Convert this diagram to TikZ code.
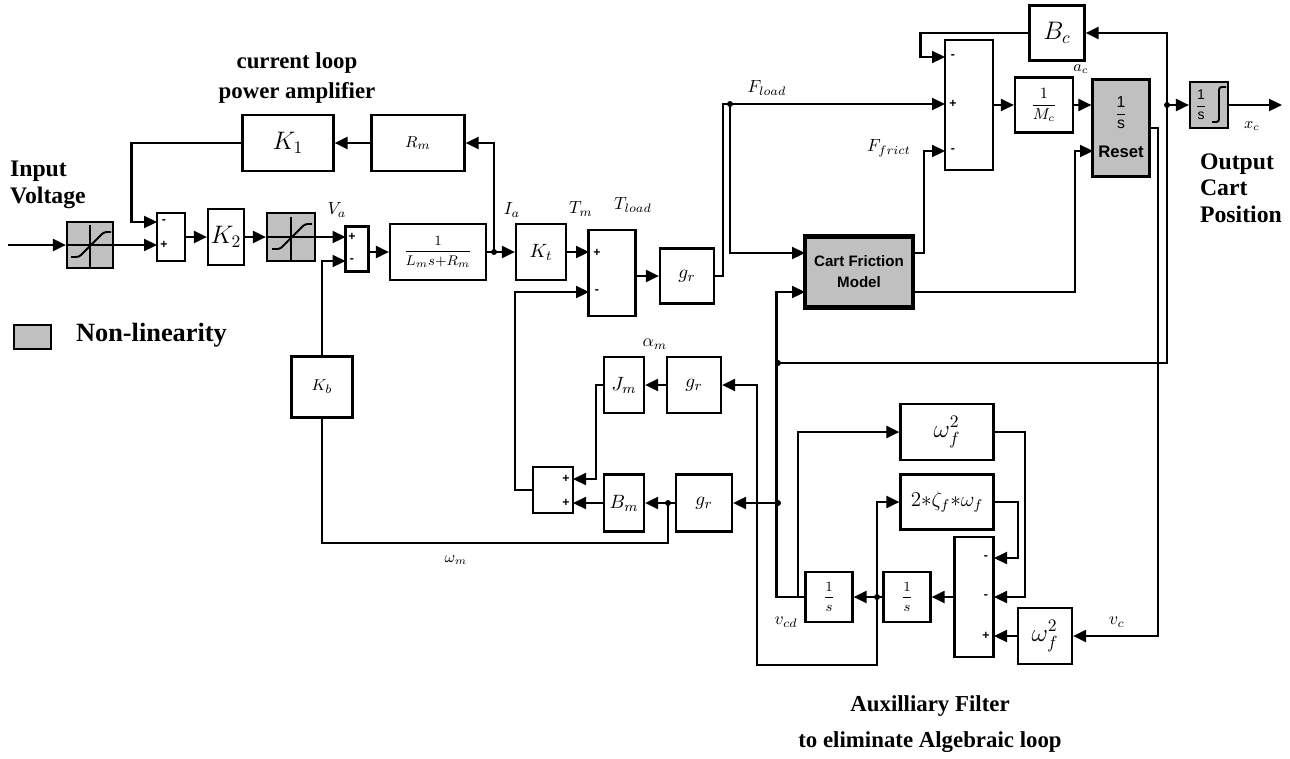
\documentclass[tikz,border=0pt]{standalone}
\usepackage{amsmath}
\usepackage{fontspec}
\newfontfamily\labelfont{Liberation Serif}
\newfontfamily\blockfont{Liberation Sans}
\usepackage{tikz}
\usetikzlibrary{arrows.meta}

\definecolor{nlgray}{RGB}{192,192,192}

% saturation symbol inside a grey block
\newcommand{\satur}[1]{%
  \begin{scope}[shift={(#1.center)}, line width=1.1pt]
    \draw (0,-20) -- (0,23);
    \draw (-23,0) -- (23,0);
    \draw[rounded corners=1.5pt] (-19,12) -- (-11,12) -- (14,-13) -- (21,-13);
  \end{scope}}

\begin{document}
\begin{tikzpicture}[x=0.02cm, y=-0.02cm, line width=1.25pt,
    box/.style 2 args={draw, minimum width=#1*0.02cm, minimum height=#2*0.02cm, inner sep=0pt},
    nl/.style={fill=nlgray},
    sig/.style={-{Triangle[length=0.26cm, width=0.24cm]}},
    sgn/.style={inner sep=0pt, font=\blockfont\bfseries\fontsize{7}{7}\selectfont},
    var/.style={inner sep=1pt, font=\fontsize{10}{10}\selectfont},
    lbl/.style={inner sep=0pt, font=\labelfont\bfseries\fontsize{13.5}{15}\selectfont},
    big/.style={font=\fontsize{14}{14}\selectfont},
    mid/.style={font=\fontsize{11}{11}\selectfont}]
\useasboundingbox (0,0) rectangle (1290,758);

% blocks, upper row
\node[box={46}{46}, nl] (sat1) at (90,245) {};
\node[box={28}{48}] (sum1) at (171,237) {};
\node[box={36}{56}, big] (K2) at (226,237) {$K_2$};
\node[box={48}{48}, nl] (sat2) at (291,237) {};
\node[box={23}{45}] (sum2) at (357,249) {};
\node[box={96}{56}, font=\fontsize{8}{8}\selectfont] (TF1) at (438,252) {$\dfrac{1}{L_m s{+}R_m}$};
\node[box={91}{56}, big] (K1) at (288,143) {$K_1$};
\node[box={93}{56}, font=\fontsize{9.5}{9.5}\selectfont] (Rm) at (418,143) {$R_m$};
\node[box={50}{56}, mid] (Kt) at (541,252) {$K_t$};
\node[box={47}{86}] (sum3) at (612,273) {};
\node[box={54}{55}, mid] (gr1) at (687,276) {$g_r$};
\node[box={108}{71}, nl, line width=2.4pt, align=center,
      font=\blockfont\bfseries\fontsize{8.6}{12}\selectfont] (CFM) at (859,272) {Cart Friction\\Model};
\node[box={48}{130}] (sum4) at (969,105) {};
\node[box={55}{55}, big] (Bc) at (1057,33) {$B_c$};
\node[box={58}{55}, font=\fontsize{9}{9}\selectfont] (Mc) at (1044,105) {$\dfrac{1}{M_c}$};
\node[box={57}{97}, nl] (Reset) at (1121,128) {};
\node[box={38}{46}, nl] (Int) at (1209,105) {};

% blocks, lower part
\node[box={61}{61}, font=\fontsize{9.5}{9.5}\selectfont] (Kb) at (322,387) {$K_b$};
\node[box={40}{56}, mid] (Jm) at (624,385) {$J_m$};
\node[box={54}{56}, mid] (gr2) at (694,385) {$g_r$};
\node[box={40}{46}] (sum5) at (553,490) {};
\node[box={40}{57}, mid] (Bm) at (624,503) {$B_m$};
\node[box={56}{57}, mid] (gr3) at (704,503) {$g_r$};
\node[box={93}{56}, big] (wf1) at (947,432) {$\omega_f^2$};
\node[box={93}{55}, font=\fontsize{12}{12}\selectfont] (zw) at (947,502) {$2{\ast}\zeta_f{\ast}\omega_f$};
\node[box={39}{120}] (sum6) at (974,597) {};
\node[box={47}{50}, font=\fontsize{8.5}{8.5}\selectfont] (int1) at (907,597) {$\dfrac{1}{s}$};
\node[box={47}{50}, font=\fontsize{8.5}{8.5}\selectfont] (int2) at (829,597) {$\dfrac{1}{s}$};
\node[box={54}{56}, big] (wf2) at (1045,636) {$\omega_f^2$};

% block symbols
\satur{sat1}
\satur{sat2}
\node[font=\blockfont\fontsize{9}{9}\selectfont] (rsfrac) at (1121,113) {$\dfrac{\text{1}}{\text{s}}$};
\node[font=\blockfont\bfseries\fontsize{9.5}{9.5}\selectfont] (rstxt) at (1121,152) {Reset};
\node[font=\blockfont\fontsize{8}{8}\selectfont] (intfrac) at (1201,105) {$\dfrac{\text{1}}{\text{s}}$};
\draw[line width=1.1pt, rounded corners=1.5pt] (1212,122) -- (1219,122) -- (1219,87) -- (1226,87);

% ports
\coordinate (s1a) at (157,222);
\coordinate (s1b) at (157,245);
\coordinate (s2a) at (345.5,237);
\coordinate (s2b) at (345.5,261);
\coordinate (s3a) at (589,252);
\coordinate (s3b) at (589,292);
\coordinate (s4a) at (945,57);
\coordinate (s4b) at (945,104);
\coordinate (s4c) at (945,151);
\coordinate (cf1) at (805,253);
\coordinate (cf2) at (805,292);
\coordinate (rs2) at (1093,151);
\coordinate (s5a) at (573,479);
\coordinate (s5b) at (573,503);
\coordinate (s6a) at (994,558);
\coordinate (s6b) at (994,597);
\coordinate (s6c) at (994,636);

% branch points
\coordinate (vin) at (8,245);
\coordinate (ia) at (494,252);
\coordinate (fl) at (730,104);
\coordinate (vj) at (1167,105);
\coordinate (xout) at (1282,105);
\coordinate (vd) at (778,363);
\coordinate (vb) at (778,503);
\coordinate (wm) at (668,503);
\coordinate (acc) at (877,597);
\coordinate (vc1) at (798,597);

% signs
\node[sgn] (p1a) at (164,222) {-};
\node[sgn] (p1b) at (164,245) {+};
\node[sgn] (p2a) at (352,237) {+};
\node[sgn] (p2b) at (352,261) {-};
\node[sgn] (p3a) at (597,253) {+};
\node[sgn] (p3b) at (597,292) {-};
\node[sgn] (p4a) at (953,57) {-};
\node[sgn] (p4b) at (953,104) {+};
\node[sgn] (p4c) at (953,151) {-};
\node[sgn] (p5a) at (566,479) {+};
\node[sgn] (p5b) at (566,503) {+};
\node[sgn] (p6a) at (986,558) {-};
\node[sgn] (p6b) at (986,597) {-};
\node[sgn] (p6c) at (986,636) {+};

% current loop
\draw[sig] (vin) -- (sat1);
\draw[sig] (sat1.east) -- (s1b);
\draw[sig] (sum1) -- (K2);
\draw[sig] (K2) -- (sat2);
\draw[sig] (sat2) -- (s2a);
\draw[sig] (sum2.east |- TF1) -- (TF1);
\draw (TF1) -- (ia);
\draw[sig] (ia) -- (Kt);
\draw[sig] (ia) |- (Rm);
\draw[sig] (Rm) -- (K1);
\draw[sig] (K1.west) -- ++(-110,0) |- (s1a);

% motor and cart
\draw[sig] (Kt) -- (s3a);
\draw[sig] (sum3.east |- gr1) -- (gr1);
\draw[sig] (gr1.east) -- ++(8,0) |- (s4b);
\draw[sig] (fl) |- (cf1);
\draw[sig] (CFM.east |- cf1) -- ++(9,0) |- (s4c);
\draw[sig] (CFM.east |- cf2) -- ++(160,0) |- (rs2);
\draw[sig] (sum4) -- (Mc);
\draw[sig] (Mc) -- (Reset.west |- Mc);
\draw (vd) -| (vj);
\draw[sig] (vj) |- (Bc);
\draw[sig] (Bc.west) -- ++(-108,0) |- (s4a);
\draw[sig] (vj) -- (Int);
\draw[sig] (Int) -- (xout);

% motor inertia and damping
\draw[sig] (vb) -- (gr3);
\draw[sig] (gr3) -- (Bm);
\draw[sig] (Bm) -- (s5b);
\draw (wm) -- ++(0,40) -| (Kb);
\draw[sig] (Kb) |- (s2b);
\draw[sig] (gr2) -- (Jm);
\draw[sig] (Jm.west) -- ++(-7,0) |- (s5a);
\draw[sig] (sum5.west) -- ++(-17,0) |- (s3b);

% auxiliary filter
\draw[sig] (Reset.east) -- ++(7,0) |- (wf2);
\draw[sig] (wf2) -- (s6c);
\draw[sig] (wf1.east) -- ++(30,0) |- (s6b);
\draw[sig] (zw.east) -- ++(23,0) |- (s6a);
\draw[sig] (sum6) -- (int1);
\draw[sig] (int1) -- (int2);
\draw[sig] (acc) |- (zw);
\draw[sig] (acc) -- ++(0,68) -- ++(-120,0) |- (gr2);
\draw[sig] (int2.west) -- ++(-28,0) |- (cf2);
\draw[sig] (vc1) |- (wf1);

% junctions
\foreach \j in {ia, fl, vj, vd, vb, wm, acc}
  \fill (\j) circle[radius=1.7pt];

% signal names
\node[var] (lVa) at (337,210) {$V_a$};
\node[var] (lIa) at (512,210) {$I_a$};
\node[var] (lTm) at (581,209) {$T_m$};
\node[var] (lTl) at (633,205) {$T_{load}$};
\node[var] (lFl) at (767,88) {$F_{load}$};
\node[var] (lFf) at (889,148) {$F_{frict}$};
\node[var, font=\fontsize{9}{9}\selectfont] (lac) at (1081,69) {$a_c$};
\node[var, font=\fontsize{9}{9}\selectfont] (lxc) at (1252,126) {$x_c$};
\node[var] (lam) at (655,344) {$\alpha_m$};
\node[var, font=\fontsize{9}{9}\selectfont] (lwm) at (456,560) {$\omega_m$};
\node[var] (lvcd) at (786,622) {$v_{cd}$};
\node[var] (lvc) at (1117,622) {$v_c$};

% titles
\node[lbl, align=center, font=\labelfont\bfseries\fontsize{13}{17}\selectfont] (tcl) at (297,78) {current loop\\power amplifier};
\node[lbl, align=left, anchor=west] (tin) at (9,185) {Input\\Voltage};
\node[lbl, align=left, anchor=west] (tout) at (1199,188) {Output\\Cart\\Position};
\draw[fill=nlgray, line width=0.8pt] (14,325) rectangle (51,349);
\node[lbl, font=\labelfont\bfseries\fontsize{15}{15}\selectfont, anchor=west] (tnl) at (75,335) {Non-linearity};
\node[lbl, align=center, font=\labelfont\bfseries\fontsize{13}{20.5}\selectfont] (taux) at (930,724) {Auxilliary Filter\\to eliminate Algebraic loop};
\end{tikzpicture}
\end{document}
